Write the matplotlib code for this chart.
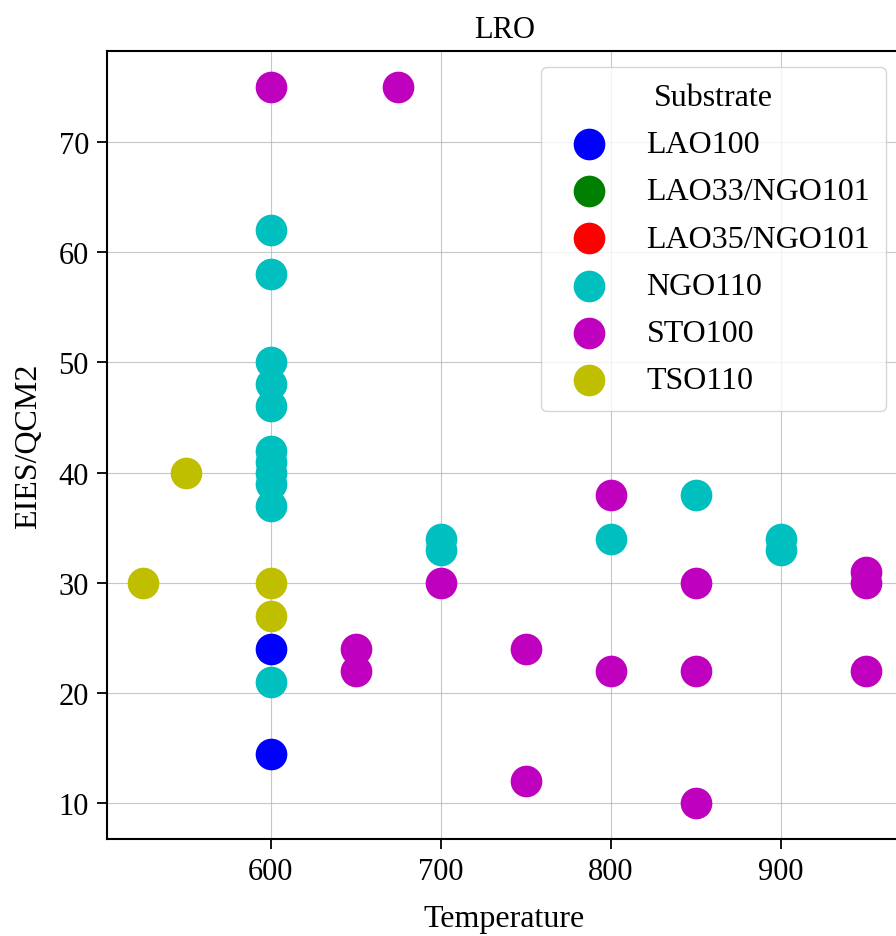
import numpy as np
import matplotlib
matplotlib.use("Agg")
import matplotlib.pyplot as plt

plt.rcParams['font.family'] = ['Liberation Serif', 'DejaVu Serif']

# substrate groups: (temperature, EIES/QCM2)
lao100_t = [600, 600]
lao100_v = [24, 14.5]

lao33_t = []
lao33_v = []

lao35_t = []
lao35_v = []

ngo110_t = [600, 600, 600, 600, 600, 600, 600, 600, 600, 600, 600,
            700, 700, 800, 850, 900, 900]
ngo110_v = [62, 58, 50, 48, 46, 42, 41, 40, 39, 37, 21,
            34, 33, 34, 38, 34, 33]

sto100_t = [600, 675, 650, 650, 700, 750, 750, 800, 800, 850, 850, 850,
            950, 950, 950]
sto100_v = [75, 75, 24, 22, 30, 24, 12, 38, 22, 30, 22, 10,
            31, 30, 22]

tso110_t = [525, 550, 600, 600]
tso110_v = [30, 40, 30, 27]

groups = [
    ("LAO100", lao100_t, lao100_v, "b"),
    ("LAO33/NGO101", lao33_t, lao33_v, "g"),
    ("LAO35/NGO101", lao35_t, lao35_v, "r"),
    ("NGO110", ngo110_t, ngo110_v, "c"),
    ("STO100", sto100_t, sto100_v, "m"),
    ("TSO110", tso110_t, tso110_v, "y"),
]

fig = plt.figure(figsize=(8.96, 9.37), dpi=100)
ax = fig.add_axes([0.1194, 0.1035, 0.8873, 0.841])

for name, t, v, c in groups:
    ax.scatter(t, v, s=520, c=c, label=name, linewidths=0)

ax.set_xlim(503.75, 971.25)
ax.set_ylim(6.75, 78.25)
ax.set_xticks([600, 700, 800, 900])
ax.set_yticks([10, 20, 30, 40, 50, 60, 70])
ax.grid(True, color="#b0b0b0", linewidth=0.8, alpha=0.7)
ax.set_axisbelow(True)
ax.tick_params(labelsize=22, length=7, width=1.3, pad=6)
for sp in ax.spines.values():
    sp.set_linewidth(1.5)

ax.set_title("LRO", fontsize=22, pad=10)
ax.set_xlabel("Temperature", fontsize=23, labelpad=13)
ax.set_ylabel("EIES/QCM2", fontsize=23, labelpad=11)

ax.legend(title="Substrate", fontsize=23, title_fontsize=23,
          loc="upper right", borderaxespad=0.5, labelspacing=0.56,
          borderpad=0.5, framealpha=0.8)

fig.savefig("out.png", dpi=100)
